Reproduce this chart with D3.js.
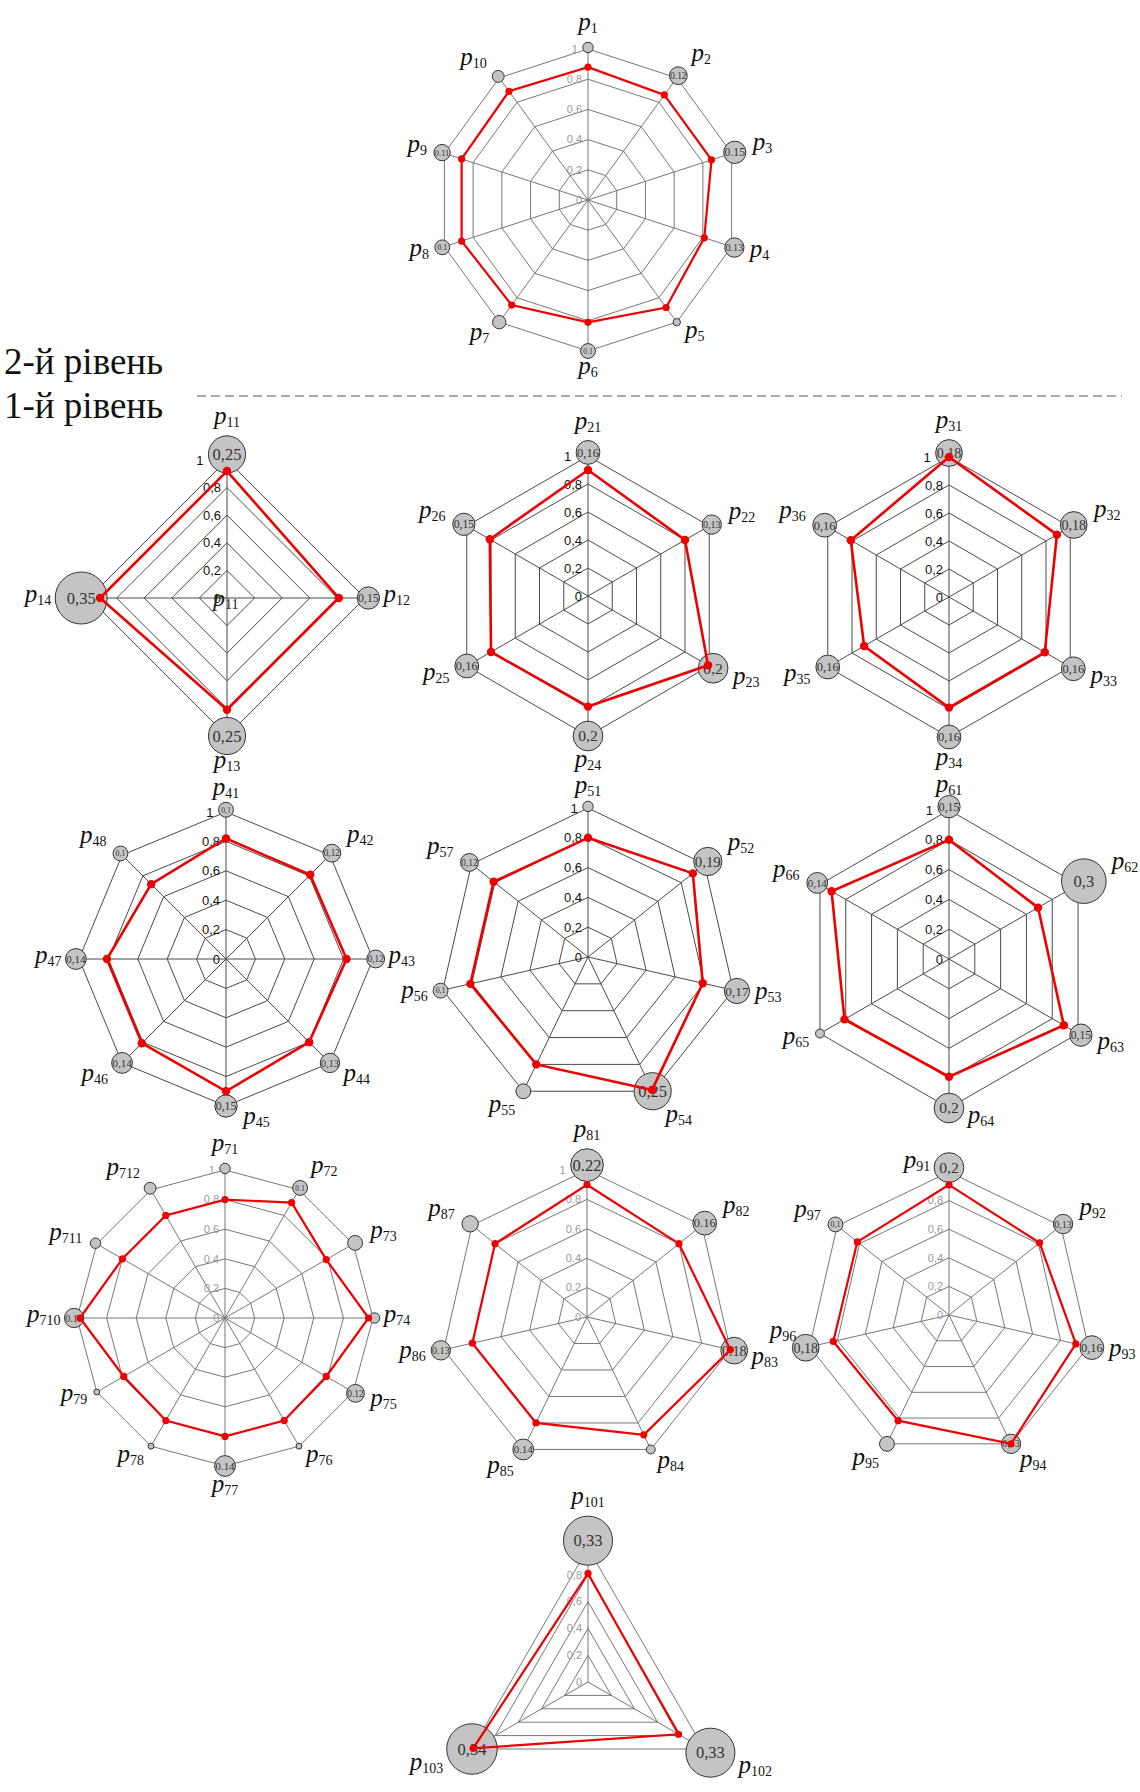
<!DOCTYPE html>
<html>
<head>
<meta charset="utf-8">
<script src="https://cdn.jsdelivr.net/npm/d3@7"></script>
<style>
  body { margin: 0; background: #fff; }
</style>
</head>
<body>
<svg id="chart" width="1140" height="1792"></svg>
<script>
// 2nd level
const axes0 = ["p1","p2","p3","p4","p5","p6","p7","p8","p9","p10"];
const vals0 = [0.88,0.86,0.86,0.81,0.88,0.81,0.86,0.88,0.88,0.89];
const wts0  = [0.07,0.12,0.15,0.13,0.05,0.1,0.09,0.1,0.11,0.08];
const show0 = [0,1,1,1,0,1,0,1,1,0];

// 1st level
const axes1 = ["p11","p12","p13","p14"];
const vals1 = [0.92,0.81,0.81,0.92];
const wts1  = [0.25,0.15,0.25,0.35];
const show1 = [1,1,1,1];

const axes2 = ["p21","p22","p23","p24","p25","p26"];
const vals2 = [0.90,0.80,0.99,0.79,0.80,0.81];
const wts2  = [0.16,0.13,0.2,0.2,0.16,0.15];
const show2 = [1,1,1,1,1,1];

const axes3 = ["p31","p32","p33","p34","p35","p36"];
const vals3 = [1.0,0.89,0.79,0.79,0.70,0.81];
const wts3  = [0.18,0.18,0.16,0.16,0.16,0.16];
const show3 = [1,1,1,1,1,1];

const axes4 = ["p41","p42","p43","p44","p45","p46","p47","p48"];
const vals4 = [0.82,0.81,0.82,0.80,0.90,0.81,0.81,0.72];
const wts4  = [0.1,0.12,0.12,0.13,0.15,0.14,0.14,0.1];
const show4 = [1,1,1,1,1,1,1,1];

const axes5 = ["p51","p52","p53","p54","p55","p56","p57"];
const vals5 = [0.80,0.90,0.79,0.99,0.80,0.81,0.81];
const wts5  = [0.07,0.19,0.17,0.25,0.1,0.1,0.12];
const show5 = [0,1,1,1,0,1,1];

const axes6 = ["p61","p62","p63","p64","p65","p66"];
const vals6 = [0.80,0.69,0.89,0.79,0.81,0.91];
const wts6  = [0.15,0.3,0.15,0.2,0.06,0.14];
const show6 = [1,1,1,1,0,1];

const axes7 = ["p71","p72","p73","p74","p75","p76","p77","p78","p79","p710","p711","p712"];
const vals7 = [0.80,0.90,0.79,0.97,0.79,0.80,0.80,0.80,0.79,0.98,0.80,0.80];
const wts7  = [0.07,0.1,0.1,0.07,0.12,0.04,0.14,0.04,0.04,0.13,0.07,0.08];
const show7 = [0,1,0,0,1,0,1,0,0,1,0,0];

const axes8 = ["p81","p82","p83","p84","p85","p86","p87"];
const vals8 = [0.90,0.80,1.0,0.89,0.80,0.80,0.80];
const wts8  = [0.22,0.16,0.18,0.06,0.14,0.13,0.11];
const show8 = [1,1,1,0,1,1,0];

const axes9 = ["p91","p92","p93","p94","p95","p96","p97"];
const vals9 = [0.91,0.81,0.91,1.0,0.82,0.83,0.82];
const wts9  = [0.2,0.13,0.16,0.13,0.1,0.18,0.1];
const show9 = [1,1,1,1,0,1,1];

const axes10 = ["p101","p102","p103"];
const vals10 = [0.81,0.78,0.99];
const wts10  = [0.33,0.33,0.34];
const show10 = [1,1,1];

const ticks = [0, 0.2, 0.4, 0.6, 0.8, 1];
const levelLabels = ["2-й рівень", "1-й рівень"];

const svg = d3.select("#chart");
const serif = "'Liberation Serif', 'Times New Roman', serif";
const sans = "'Liberation Sans', Arial, sans-serif";

const commaLocale = d3.formatLocale({decimal: ",", thousands: " ", grouping: [3], currency: ["", ""]});
const fmt = {
  ".": { tick: d3.format(".1~f"), w: d3.format(".2~f") },
  ",": { tick: commaLocale.format(".1~f"), w: commaLocale.format(".2~f") }
};

const size = d3.scaleLinear().domain([0, 0.35]).range([0, 26]);

// hand placement for crowded axis names (side of circle or just a shift)
const labelPlace = {
  p13: {dy: -3},
  p41: {dy: 5},
  p51: {dy: 4},
  p61: {dy: 8},
  p45: {side: "right", dx: 2, dy: 14},
  p64: {side: "right", dx: 0, dy: 11},
  p83: {side: "right", dx: 0, dy: 9},
  p91: {side: "left",  dx: 0, dy: -4},
  p96: {side: "left",  dx: 8, dy: -14}
};

const charts = [
  {axes: axes0,  vals: vals0,  wts: wts0,  show: show0,  cx: 588, cy: 200,  R: 151, light: true,  dec: "."},
  {axes: axes1,  vals: vals1,  wts: wts1,  show: show1,  cx: 227, cy: 598,  R: 138, light: false, dec: ",", centerTag: true},
  {axes: axes2,  vals: vals2,  wts: wts2,  show: show2,  cx: 588, cy: 596,  R: 140, light: false, dec: ","},
  {axes: axes3,  vals: vals3,  wts: wts3,  show: show3,  cx: 949, cy: 597,  R: 140, light: false, dec: ","},
  {axes: axes4,  vals: vals4,  wts: wts4,  show: show4,  cx: 226, cy: 959,  R: 147, light: false, dec: ","},
  {axes: axes5,  vals: vals5,  wts: wts5,  show: show5,  cx: 588, cy: 957,  R: 149, light: false, dec: ","},
  {axes: axes6,  vals: vals6,  wts: wts6,  show: show6,  cx: 949, cy: 959,  R: 149, light: false, dec: ","},
  {axes: axes7,  vals: vals7,  wts: wts7,  show: show7,  cx: 225, cy: 1318, R: 148, light: true,  dec: "."},
  {axes: axes8,  vals: vals8,  wts: wts8,  show: show8,  cx: 587, cy: 1317, R: 147, light: true,  dec: "."},
  {axes: axes9,  vals: vals9,  wts: wts9,  show: show9,  cx: 949, cy: 1315, R: 143, light: true,  dec: ",", topTick: false},
  {axes: axes10, vals: vals10, wts: wts10, show: show10, cx: 588, cy: 1682, R: 134, light: true,  dec: ",", topTick: false}
];

charts.forEach(radar);

function radar(c) {
  const n = c.axes.length;
  const ang = d3.scaleLinear().domain([0, n]).range([0, 2 * Math.PI]);
  const r = d3.scaleLinear().domain([0, 1]).range([0, c.R]);
  const g = svg.append("g").attr("transform", `translate(${c.cx},${c.cy})`);
  const idx = d3.range(n);
  const gridColor = c.light ? "#777" : "#4a4a4a";
  const topRad = size(c.wts[0]);

  const ring = d3.lineRadial().curve(d3.curveLinearClosed);

  // grid rings
  g.selectAll("path.ring").data(ticks.slice(1)).enter().append("path")
    .attr("class", "ring")
    .attr("d", t => ring(idx.map(i => [ang(i), r(t)])))
    .attr("fill", "none")
    .attr("stroke", gridColor)
    .attr("stroke-width", 1);

  // spokes
  g.selectAll("line.spoke").data(idx).enter().append("line")
    .attr("x2", i => Math.sin(ang(i)) * r(1))
    .attr("y2", i => -Math.cos(ang(i)) * r(1))
    .attr("stroke", gridColor)
    .attr("stroke-width", 1);

  // tick labels (the top one sits left of the weight circle)
  const shownTicks = c.topTick === false ? ticks.slice(0, -1) : ticks;
  g.selectAll("text.tick").data(shownTicks).enter().append("text")
    .attr("x", t => t === 1 ? -(topRad + 5) : -6)
    .attr("y", t => -r(t))
    .attr("dy", "0.35em")
    .attr("text-anchor", "end")
    .style("font-family", sans)
    .style("font-size", c.light ? "11px" : "13px")
    .attr("fill", c.light ? "#999" : "#111")
    .text(t => fmt[c.dec].tick(t));

  if (c.centerTag) {
    const t = g.append("text").attr("x", -14).attr("y", 8)
      .style("font-family", serif).attr("fill", "#222");
    t.append("tspan").style("font-style", "italic").style("font-size", "24px").text(c.axes[0][0]);
    t.append("tspan").attr("dy", 3).style("font-size", "14px").text(c.axes[0].slice(1));
  }

  // weight circles
  const nodes = idx.map(i => {
    const rad = size(c.wts[i]);
    const a = ang(i);
    const d = r(1) + (Math.cos(a) > -0.5 ? rad * 0.3 : 0);
    return {i, a, rad, x: Math.sin(a) * d, y: -Math.cos(a) * d};
  });

  const node = g.selectAll("g.node").data(nodes).enter().append("g")
    .attr("transform", d => `translate(${d.x},${d.y})`);
  node.append("circle")
    .attr("r", d => d.rad)
    .attr("fill", "#c4c4c4")
    .attr("stroke", "#333")
    .attr("stroke-width", 1);
  node.filter(d => c.show[d.i]).append("text")
    .attr("text-anchor", "middle")
    .attr("dy", "0.35em")
    .style("font-family", serif)
    .style("font-size", d => Math.min(16.5, d.rad * 1.05) + "px")
    .attr("fill", "#333")
    .text(d => fmt[c.dec].w(c.wts[d.i]));

  // red profile
  g.append("path")
    .attr("d", ring(idx.map(i => [ang(i), r(c.vals[i])])))
    .attr("fill", "none")
    .attr("stroke", "#ee0000")
    .attr("stroke-width", c.light ? 2.2 : 2.6);
  g.selectAll("circle.dot").data(idx).enter().append("circle")
    .attr("cx", i => Math.sin(ang(i)) * r(c.vals[i]))
    .attr("cy", i => -Math.cos(ang(i)) * r(c.vals[i]))
    .attr("r", c.light ? 3.6 : 4.2)
    .attr("fill", "#ee0000");

  // axis names
  nodes.forEach(d => {
    const s = Math.sin(d.a), co = Math.cos(d.a);
    const gap = 4 + 8 * Math.abs(co) + 4 * Math.max(0, co);
    let x = d.x + (d.rad + gap) * s;
    let y = d.y - (d.rad + gap) * co;
    let anchor = s > 0.3 ? "start" : s < -0.3 ? "end" : "middle";
    const p = labelPlace[c.axes[d.i]];
    if (p && p.side) {
      anchor = p.side === "right" ? "start" : "end";
      x = d.x + (p.side === "right" ? 1 : -1) * (d.rad + 4) + p.dx;
      y = d.y + p.dy;
    } else if (p) {
      y += p.dy;
    }
    const t = g.append("text")
      .attr("text-anchor", anchor)
      .attr("x", x)
      .attr("y", y + 4)
      .style("font-family", serif)
      .attr("fill", "#111");
    t.append("tspan").style("font-style", "italic").style("font-size", "25px").text(c.axes[d.i][0]);
    t.append("tspan").attr("dy", 3).style("font-size", "14px").text(c.axes[d.i].slice(1));
  });
}

// level captions and divider
svg.selectAll("text.level").data(levelLabels).enter().append("text")
  .attr("x", 4)
  .attr("y", (d, i) => 374 + i * 44)
  .style("font-family", serif)
  .style("font-size", "37px")
  .attr("fill", "#111")
  .text(d => d);

svg.append("line")
  .attr("x1", 197).attr("x2", 1122)
  .attr("y1", 396).attr("y2", 396)
  .attr("stroke", "#555")
  .attr("stroke-width", 1)
  .attr("stroke-dasharray", "9,5");
</script>
</body>
</html>
